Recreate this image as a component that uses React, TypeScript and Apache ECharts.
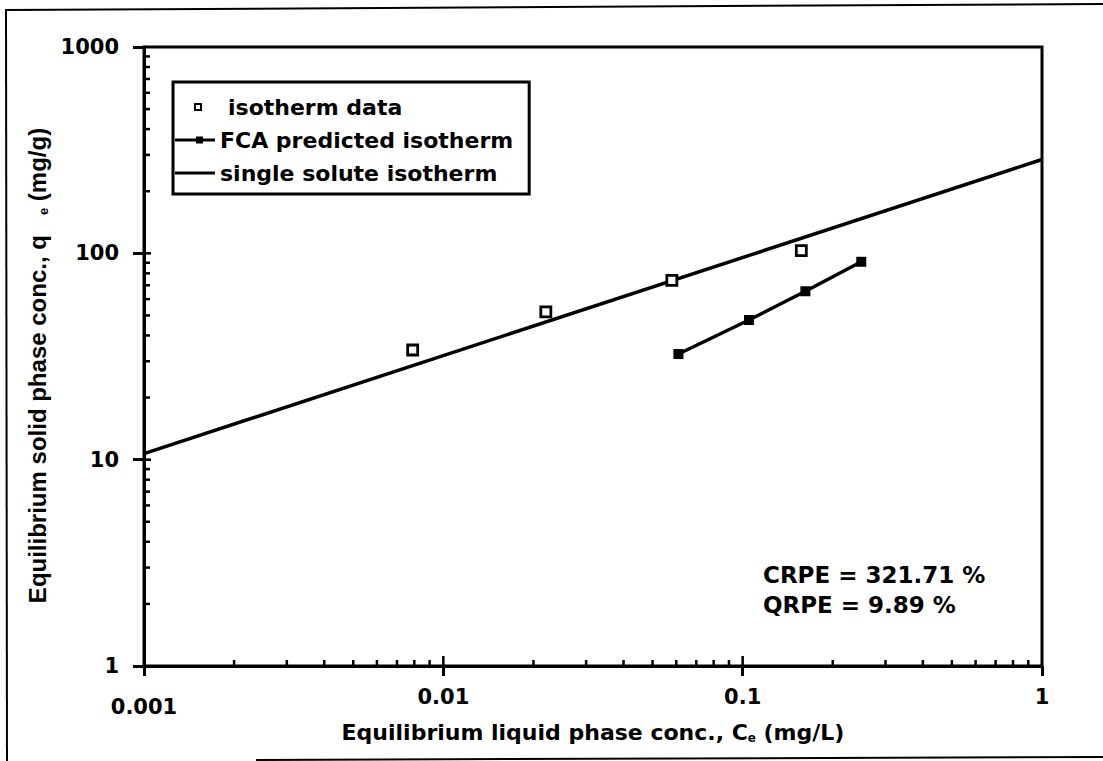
import React, { useEffect, useRef } from "react";
import * as echarts from "echarts";

const FONT = "DejaVu Sans";

// Tick labels
const xTickLabels = ["0.001", "0.01", "0.1", "1"];
const yTickLabels = ["1", "10", "100", "1000"];

// Minor / inner tick values (axis decoration)
const xMinorTicks = [
  0.002, 0.003, 0.004, 0.005, 0.006, 0.007, 0.008, 0.009,
  0.02, 0.03, 0.04, 0.05, 0.06, 0.07, 0.08, 0.09,
  0.2, 0.3, 0.4, 0.5, 0.6, 0.7, 0.8, 0.9,
];
const yMinorTicks = [
  2, 3, 4, 5, 6, 7, 8, 9,
  20, 30, 40, 50, 60, 70, 80, 90,
  200, 300, 400, 500, 600, 700, 800, 900,
];
const xMajorInner = [0.01, 0.1];
const yMajorInner = [10, 100];

// Series data
const isoDataX = [0.0079, 0.022, 0.058, 0.157];
const isoDataY = [34, 52, 74, 103];

const fcaX = [0.061, 0.105, 0.162, 0.249];
const fcaY = [32.5, 47.5, 65.5, 91];

const singleX = [0.001, 1];
const singleY = [10.7, 285];

const seriesNames = ["isotherm data", "FCA predicted isotherm", "single solute isotherm"];

const annotations = ["CRPE = 321.71 %", "QRPE = 9.89 %"];

export default function App() {
  const ref = useRef<HTMLDivElement>(null);

  useEffect(() => {
    if (!ref.current) return;
    const chart = echarts.init(ref.current, null, { renderer: "svg" });

    const tickData: number[][] = [
      ...xMinorTicks.map((v) => [v, 1, 0, 6]),
      ...xMajorInner.map((v) => [v, 1, 0, 10]),
      ...yMinorTicks.map((v) => [0.001, v, 1, 6]),
      ...yMajorInner.map((v) => [0.001, v, 1, 7]),
    ];

    const bounds = "M0,0h0.01v0.01h-0.01zM40,22h-0.01v-0.01h0.01z";

    const option: any = {
      animation: false,
      backgroundColor: "#fff",
      textStyle: { fontFamily: FONT, color: "#000" },
      grid: {
        left: 144,
        right: 61,
        top: 47,
        bottom: 95,
        show: true,
        borderColor: "#000",
        borderWidth: 3,
        outerBoundsMode: "none",
        containLabel: false,
      },
      legend: {
        orient: "vertical",
        left: 173,
        top: 82,
        itemWidth: 40,
        itemHeight: 22,
        itemGap: 11,
        padding: [14, 16, 10, 2],
        borderColor: "#000",
        borderWidth: 3,
        backgroundColor: "#fff",
        selectedMode: false,
        textStyle: { fontFamily: FONT, fontSize: 22, fontWeight: "bold", color: "#000" },
        data: [
          {
            name: seriesNames[0],
            icon: "path://" + bounds + "M19,7h8v8h-8zM21,9v4h4v-4z",
            itemStyle: { color: "#000", borderWidth: 0 },
            textStyle: { padding: [0, 0, 0, 8] },
          },
          {
            name: seriesNames[1],
            icon: "path://" + bounds + "M0,9.5h40v3h-40zM21,7.5h7v7h-7z",
            itemStyle: { color: "#000", borderWidth: 0 },
          },
          {
            name: seriesNames[2],
            icon: "path://" + bounds + "M0,9.5h40v3h-40z",
            itemStyle: { color: "#000", borderWidth: 0 },
          },
        ],
      },
      xAxis: {
        type: "log",
        logBase: 10,
        min: 0.001,
        max: 1,
        name: "Equilibrium liquid phase conc., C{sub|e} (mg/L)",
        nameLocation: "middle",
        nameGap: 53,
        nameTextStyle: {
          fontFamily: FONT,
          fontSize: 22,
          fontWeight: "bold",
          color: "#000",
          rich: {
            sub: {
              fontFamily: FONT,
              fontSize: 12,
              fontWeight: "bold",
              color: "#000",
              verticalAlign: "bottom",
            },
          },
        },
        axisLine: { show: true, lineStyle: { color: "#000", width: 3 } },
        axisTick: { show: true, inside: false, length: 10, lineStyle: { color: "#000", width: 3 } },
        splitLine: { show: false },
        axisLabel: {
          margin: 20,
          fontFamily: FONT,
          fontSize: 21,
          fontWeight: "bold",
          color: "#000",
          formatter: (v: number) => {
            const i = Math.round(Math.log10(v)) + 3;
            const s = xTickLabels[i] ?? "";
            return i === 0 ? "{low|" + s + "}" : s;
          },
          rich: {
            low: {
              fontFamily: FONT,
              fontSize: 21,
              fontWeight: "bold",
              color: "#000",
              padding: [10, 0, 0, 0],
            },
          },
        },
      },
      yAxis: {
        type: "log",
        logBase: 10,
        min: 1,
        max: 1000,
        name: "Equilibrium solid phase conc., q   {sub|e} (mg/g)",
        nameLocation: "middle",
        nameGap: 92,
        nameRotate: 90,
        nameTextStyle: {
          fontFamily: "Liberation Sans",
          fontSize: 24,
          fontWeight: "bold",
          color: "#000",
          padding: [0, 18, 0, 0],
          rich: {
            sub: {
              fontFamily: "Liberation Sans",
              fontSize: 13,
              fontWeight: "bold",
              color: "#000",
              verticalAlign: "bottom",
            },
          },
        },
        axisLine: { show: true, lineStyle: { color: "#000", width: 3 } },
        axisTick: { show: true, inside: false, length: 11, lineStyle: { color: "#000", width: 3 } },
        splitLine: { show: false },
        axisLabel: {
          margin: 25,
          fontFamily: FONT,
          fontSize: 21,
          fontWeight: "bold",
          color: "#000",
          formatter: (v: number) => yTickLabels[Math.round(Math.log10(v))] ?? "",
        },
      },
      series: [
        {
          type: "custom",
          name: "ticks",
          silent: true,
          clip: false,
          coordinateSystem: "cartesian2d",
          dimensions: ["x", "y", "dir", "len"],
          encode: { x: 0, y: 1 },
          data: tickData,
          renderItem: (params: any, api: any) => {
            const p = api.coord([api.value(0), api.value(1)]);
            const dir = api.value(2);
            const len = api.value(3);
            const shape =
              dir === 0
                ? { x1: p[0], y1: p[1], x2: p[0], y2: p[1] - len }
                : { x1: p[0], y1: p[1], x2: p[0] + len, y2: p[1] };
            return { type: "line", shape, style: { stroke: "#000", lineWidth: 2.5 } };
          },
          z: 5,
        },
        {
          type: "line",
          name: seriesNames[2],
          data: singleX.map((x, i) => [x, singleY[i]]),
          symbol: "none",
          lineStyle: { color: "#000", width: 3.5 },
          itemStyle: { color: "#000" },
          z: 2,
        },
        {
          type: "line",
          name: seriesNames[1],
          data: fcaX.map((x, i) => [x, fcaY[i]]),
          symbol: "rect",
          symbolSize: 10,
          showSymbol: true,
          lineStyle: { color: "#000", width: 3.5 },
          itemStyle: { color: "#000" },
          z: 3,
        },
        {
          type: "scatter",
          name: seriesNames[0],
          data: isoDataX.map((x, i) => [x, isoDataY[i]]),
          symbol: "rect",
          symbolSize: 10,
          itemStyle: { color: "#fff", borderColor: "#000", borderWidth: 2.8, opacity: 1 },
          z: 4,
        },
      ],
      graphic: [
        {
          type: "text",
          x: 763,
          y: 575,
          style: {
            text: annotations[0],
            fontFamily: FONT,
            fontSize: 23,
            fontWeight: "bold",
            fill: "#000",
            align: "left",
            verticalAlign: "middle",
          },
        },
        {
          type: "text",
          x: 763,
          y: 605,
          style: {
            text: annotations[1],
            fontFamily: FONT,
            fontSize: 23,
            fontWeight: "bold",
            fill: "#000",
            align: "left",
            verticalAlign: "middle",
          },
        },
        {
          type: "line",
          shape: { x1: 5, y1: 10, x2: 1103, y2: 4 },
          style: { stroke: "#000", lineWidth: 2 },
        },
        {
          type: "line",
          shape: { x1: 6, y1: 10, x2: 7, y2: 761 },
          style: { stroke: "#000", lineWidth: 2 },
        },
        {
          type: "line",
          shape: { x1: 256, y1: 760, x2: 1103, y2: 757 },
          style: { stroke: "#000", lineWidth: 2 },
        },
      ],
    };

    chart.setOption(option);
    return () => chart.dispose();
  }, []);

  return (
    <div
      ref={ref}
      style={{ position: "absolute", left: 0, top: 0, width: 1103, height: 761, background: "#fff" }}
    />
  );
}
